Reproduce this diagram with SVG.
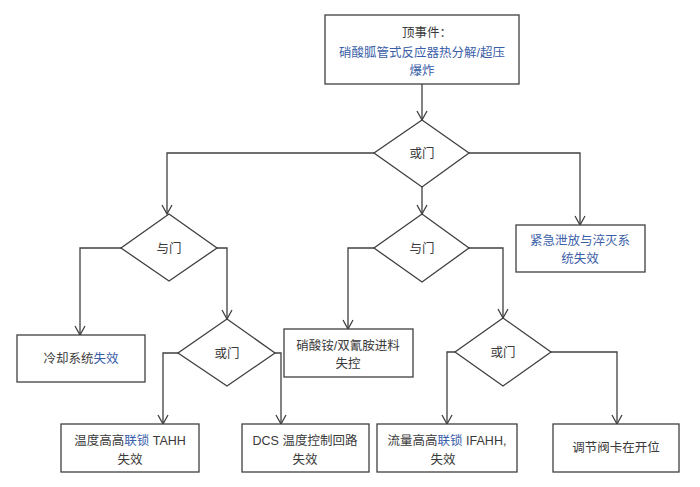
<svg xmlns="http://www.w3.org/2000/svg" width="700" height="487" viewBox="0 0 700 487">
<defs>
<style>
.box{fill:#fff;stroke:#404040;stroke-width:1.3}
.gate{fill:#fff;stroke:#404040;stroke-width:1.3}
.t{font-family:"Liberation Sans","Noto Sans CJK SC",sans-serif;font-size:12.5px;fill:#3a3a3a;text-anchor:middle}
.b{fill:#3a5ea8}
.c{fill:none;stroke:#404040;stroke-width:1.3}
</style>
<marker id="arr" markerUnits="userSpaceOnUse" markerWidth="12" markerHeight="12" viewBox="0 0 12 12" refX="11" refY="6" orient="auto">
<path d="M2,1 L11,6 L2,11" fill="none" stroke="#404040" stroke-width="1.3"/>
</marker>
</defs>
<rect width="700" height="487" fill="#fff"/>
<g id="connectors">
<path class="c" d="M422,84 V120" marker-end="url(#arr)"/>
<path class="c" d="M374,153 H167 V214" marker-end="url(#arr)"/>
<path class="c" d="M469,153 H580 V225" marker-end="url(#arr)"/>
<path class="c" d="M422,187 V214" marker-end="url(#arr)"/>
<path class="c" d="M121,248 H80 V335" marker-end="url(#arr)"/>
<path class="c" d="M217,248 H227 V319" marker-end="url(#arr)"/>
<path class="c" d="M178,353 H163 V424" marker-end="url(#arr)"/>
<path class="c" d="M275,353 H281 V424" marker-end="url(#arr)"/>
<path class="c" d="M374,248 H348 V329" marker-end="url(#arr)"/>
<path class="c" d="M469,248 H503 V318" marker-end="url(#arr)"/>
<path class="c" d="M455,352 H447 V424" marker-end="url(#arr)"/>
<path class="c" d="M551,352 H617 V424" marker-end="url(#arr)"/>
</g>
<g id="top">
<rect class="box" x="325" y="15" width="194" height="69"/>
<text class="t" x="427" y="37">顶事件：</text>
<text class="t b" x="422" y="57">硝酸胍管式反应器热分解/超压</text>
<text class="t b" x="422" y="75">爆炸</text>
</g>
<g id="or1">
<polygon class="gate" points="422,120 469,153 422,187 374,153"/>
<text class="t" x="422" y="158">或门</text>
</g>
<g id="and1">
<polygon class="gate" points="169,214 217,248 169,281 121,248"/>
<text class="t" x="169" y="253">与门</text>
</g>
<g id="and2">
<polygon class="gate" points="422,214 469,248 422,282 374,248"/>
<text class="t" x="422" y="253">与门</text>
</g>
<g id="emergency">
<rect class="box" x="516" y="225" width="129" height="47"/>
<text class="t b" x="580" y="245">紧急泄放与淬灭系</text>
<text class="t b" x="580" y="263">统失效</text>
</g>
<g id="cooling">
<rect class="box" x="17" y="335" width="128" height="47"/>
<text class="t" x="81" y="363">冷却系统<tspan class="b">失效</tspan></text>
</g>
<g id="or2">
<polygon class="gate" points="227,319 275,353 227,386 178,353"/>
<text class="t" x="227" y="358">或门</text>
</g>
<g id="feed">
<rect class="box" x="284" y="329" width="129" height="48"/>
<text class="t" x="348" y="350">硝酸铵/双氰胺进料</text>
<text class="t" x="348" y="368">失控</text>
</g>
<g id="or3">
<polygon class="gate" points="503,318 551,352 503,386 455,352"/>
<text class="t" x="503" y="357">或门</text>
</g>
<g id="tahh">
<rect class="box" x="61" y="424" width="138" height="48"/>
<text class="t" x="130" y="445">温度高高<tspan class="b">联锁</tspan> TAHH</text>
<text class="t" x="130" y="464">失效</text>
</g>
<g id="dcs">
<rect class="box" x="242" y="424" width="127" height="48"/>
<text class="t" x="305" y="445">DCS 温度控制回路</text>
<text class="t" x="305" y="464">失效</text>
</g>
<g id="ifahh">
<rect class="box" x="377" y="424" width="140" height="48"/>
<text class="t" x="447" y="445">流量高高<tspan class="b">联锁</tspan> IFAHH,</text>
<text class="t" x="443" y="464">失效</text>
</g>
<g id="valve">
<rect class="box" x="553" y="424" width="126" height="48"/>
<text class="t" x="616" y="452">调节阀卡在开位</text>
</g>
</svg>
